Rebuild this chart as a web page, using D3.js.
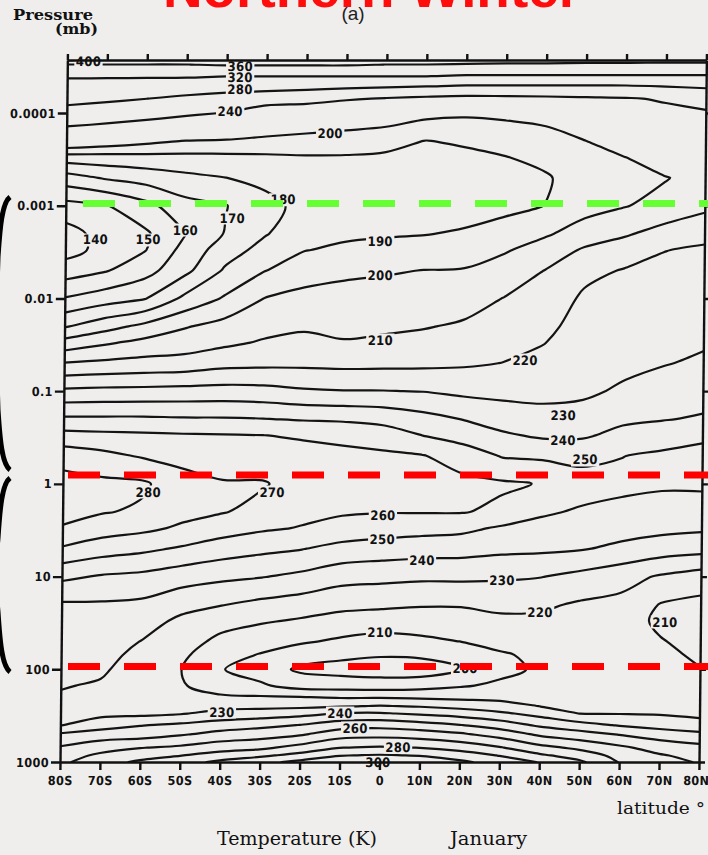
<!DOCTYPE html>
<html>
<head>
<meta charset="utf-8">
<script src="https://cdn.jsdelivr.net/npm/d3@7/dist/d3.min.js"></script>
<style>
  html, body { margin: 0; padding: 0; background: #efeeed; }
  svg { display: block; }
  .axis path, .axis line { stroke: #111; stroke-width: 2.4; }
  .axis text { font-family: "DejaVu Sans Condensed", "DejaVu Sans", sans-serif; font-weight: bold;
               font-size: 12.5px; fill: #111; letter-spacing: 0.4px; }
  .iso { fill: none; stroke: #141414; stroke-width: 2.2; stroke-linejoin: round; stroke-linecap: round; }
  .clabel { font-family: "DejaVu Sans Condensed", "DejaVu Sans", sans-serif; font-weight: bold;
            font-size: 13px; fill: #111; letter-spacing: 0.3px; }
</style>
</head>
<body>
<svg id="chart" width="708" height="855"></svg>
<script>
// ---- grid: latitude columns and pressure rows (mb, top of atmosphere first) ----
const latitudes = [-80, -70, -60, -50, -40, -30, -20, -10, 0, 10, 20, 30, 40, 50, 60, 70, 80];
const latitudeLabels = ["80S","70S","60S","50S","40S","30S","20S","10S","0","10N","20N","30N","40N","50N","60N","70N","80N"];
const pressureLevels = [0.00002, 0.00003, 0.00004, 0.00005, 0.00007, 0.0001, 0.0002, 0.0003, 0.0005, 0.001,
                        0.002, 0.003, 0.005, 0.01, 0.02, 0.03, 0.05, 0.1, 0.2, 0.3,
                        0.5, 1, 2, 3, 5, 10, 20, 30, 50, 70,
                        100, 150, 200, 250, 300, 400, 500, 700, 850, 1000];
const pressureTicks = [0.0001, 0.001, 0.01, 0.1, 1, 10, 100, 1000];
const pressureTickLabels = ["0.0001", "0.001", "0.01", "0.1", "1", "10", "100", "1000"];

// ---- zonal-mean temperature profiles (K), one per latitude, same order as pressureLevels ----
const t80S = [520,359.5,323.7,309.4,291.2,266.8,211.2,185.4,165.6,146.6,135.8,135.9,145,160.6,179.1,193.6,210.5,231.9,251.8,263.4,275.8,284.0,282.8,279.3,268.9,252.1,238.8,236.9,234.4,233.1,232.0,230.6,229.0,226.8,226.9,229.6,241.1,251,255,258];
const t70S = [470,359.7,323.7,307.7,286.6,259.8,206.9,186.1,171.1,149.4,144.1,143.5,149.2,165.3,186.1,198.6,212,232.7,251.7,262.4,272.7,282.3,280.7,274.6,264.7,249,238.9,237.0,234.6,233.0,231.4,229.0,227,226,227.5,235,244.8,255.7,262,265];
const t60S = [440,359.7,323.7,305.3,280.2,252.2,202.8,186.9,174.3,157,148.5,149.6,156.2,169.4,192.6,202.7,213.3,232.9,251.7,261.7,269.0,281.5,278.5,272.3,262.2,247.6,238.0,234.3,229.8,227.5,225.5,224,223.5,224.5,227.5,239.5,245.3,259.6,265.3,272];
const t50S = [440,359.7,323.7,301.9,272.6,244.6,199.6,187.3,177.6,166.7,159.6,163.4,167.3,182.3,199.2,205,214,233.5,251,261,266.6,274.1,273.0,268.5,258.8,244.4,233.3,228,224.5,222,220.2,221,223,226,229.2,241.8,248.7,261.8,269.6,276];
const t40S = [440,363.3,320.7,296.8,266.9,239.1,198.2,187.8,179.9,169.6,170.6,175.3,181.3,191.1,203.5,208.1,216.8,233.9,250.9,260.6,265.2,270.8,270.6,264.6,255,242.1,230.5,223.7,217.5,213.5,210.6,215,221.5,227.1,233,244.8,253,265.8,274,282];
const t30S = [440,363.3,320.7,295.1,261.4,215.4,197.1,188.4,182.7,177,179.3,183.5,189.7,200.2,206.8,211,217.6,233.2,250.3,260.1,264.3,270.8,267,261.5,252.4,240.5,227.4,221.1,213.9,209.4,205.2,211.5,221,227.4,234.6,247.3,255.3,267.8,278,287];
const t20S = [440,363.3,320.7,293.2,256.3,211.3,195.9,189.2,185.8,183,186.4,189.7,195.6,202.9,208.7,212.6,217.8,231.2,249.1,259.2,262.5,266.2,262.8,259.4,250.4,237.7,225.3,218.9,211.3,204.3,198.3,205.8,220.3,227.8,236.7,250.3,258.5,273.5,283.3,292.5];
const t10S = [440,363.3,320.7,291,244,208.3,195,189.2,185.2,183.2,188.3,191.7,198.1,203.4,207.8,210.6,217.3,230.4,248.5,257.6,262.4,265.9,261.2,256.3,247,233.7,222.7,216.5,208.4,202.2,196.5,205.3,219.1,229.3,240.5,255.4,265.3,279.8,289.5,299];
const t0   = [440,359.7,320.7,288.4,237.5,207,192.8,188.7,186.1,184.7,189.1,192.8,199.1,204,208.4,211.7,217.5,230.3,246.9,255.1,261.8,265.8,260.5,254.6,245.5,232.7,221.9,215.2,206.4,200.8,195.2,204.8,219,230.6,241,256.6,266.3,281,290.9,300.3];
const t10N = [440,359.7,320.7,285.2,232.5,203,189.8,187.5,184.6,185.4,189.6,193.9,200.2,204.7,209.4,213,217.8,229.7,243.4,249.9,260.5,264.9,260.6,253.5,244.4,231.9,220.8,215.3,207.9,201.7,194.5,206.2,218.2,229.3,238.4,254.1,264.8,279.8,289.5,298.5];
const t20N = [440,356.3,316.8,281.2,229.4,201.6,191.3,188,184.8,185.8,191.1,195.4,200.6,205.9,211.3,214.6,218.7,227.7,239.7,245.6,255.9,262.4,260.6,252.4,243.9,232,220.8,216,210.1,203.7,199,209,217.4,226.8,235.9,250.4,261.4,276.4,285.1,292];
const t30N = [440,353.5,316.8,281.2,230.5,202.2,194,189.7,187.3,187.9,193.3,199.1,204.1,210.3,214.5,217,220.2,227.1,235.7,241.4,249.3,261.4,257.9,248.7,242.4,231.3,222.5,217.9,212.7,209,207.2,211.8,217.3,223.8,231.9,245.4,255.9,270.9,279.6,286];
const t40N = [440,353.5,316.8,281.2,232.1,203.5,196.1,192.8,188.9,190.1,198.8,203.9,210.1,213.9,217.6,219.7,222.8,227.2,233.4,238.5,248.3,259.5,251.3,247.1,241.8,230.3,221.6,218,214.3,211.9,211.5,215.9,218.1,219.9,226.7,238.3,248.1,263.1,271.8,279.5];
const t50N = [440,351.1,316.8,281.2,235,222.5,199.8,197.6,195,196.7,204,211.3,217.4,221.5,223.6,224.8,226.4,228.6,233.1,238.6,247.4,254,248.9,245.2,240.7,227.2,218.8,216.4,213.3,212.1,214.4,216.5,217.9,219,219.8,233.7,243.7,257.8,265.6,272];
const t60N = [440,351.1,316.8,281.2,237.5,228,210.3,199.9,199,199.5,208.8,214.9,220.6,222.8,225.1,226.4,228.1,231.1,238.1,242.9,249.8,252.5,247.2,243.8,237.9,223.7,217.3,214.9,212,213.6,215.1,216.8,218,218.9,219.6,229.2,239.2,252,257,259.5];
const t70N = [440,349.1,317.1,284.7,243.4,232.2,216.3,207,199.4,203.5,213.6,219.8,221.8,224.1,226.4,227.8,229.5,234.2,239.5,244.9,251.9,251.3,246.2,242.6,235,218.9,209.5,208,210.6,212.2,213.9,215.9,217.3,218.4,219.2,225.9,235.3,246,251,255];
const t80N = [440,349.1,317.3,287.7,254.4,235.9,222.7,212,204.2,207.4,217.8,221.1,222.8,225.2,227.6,229,231.4,235.9,241,248.1,253,251.7,245.5,241.6,233.6,215.5,207.4,205.5,206.9,208.5,210.3,213.2,215.3,217,218.3,222.6,232.3,243,247,249];
const profiles = [t80S, t70S, t60S, t50S, t40S, t30S, t20S, t10S, t0, t10N, t20N, t30N, t40N, t50N, t60N, t70N, t80N];

// isotherms: every 10 K up to 300 K, plus the 40 K thermospheric set
const contourLevels = d3.range(140, 301, 10).concat([320, 360, 400]);
// above this pressure the thermosphere is contoured only every 40 K
const fineIntervalTop = 0.0005;

// labelled isotherms: [value, latitude, pressure mb]
const contourLabels = [
  [400, -74.7, 2.8e-5], [360, -36.7, 3.1e-5], [320, -36.7, 4.16e-5], [280, -36.7, 5.6e-5],
  [240, -39.1, 9.7e-5], [200, -14.0, 1.64e-4], [180, -25.6, 8.6e-4], [170, -38.3, 1.35e-3],
  [160, -50.0, 1.82e-3], [150, -59.3, 2.33e-3], [140, -72.5, 2.33e-3], [190, -1.2, 2.45e-3],
  [200, -1.1, 5.6e-3], [210, -0.9, 0.028], [220, 35.4, 0.046], [230, 45.1, 0.18],
  [240, 45.1, 0.335], [250, 50.7, 0.55], [280, -58.6, 1.22], [270, -27.6, 1.22],
  [260, 0.2, 2.16], [250, 0.1, 4.0], [240, 10.1, 6.6], [230, 30.2, 10.9],
  [220, 39.8, 24], [210, -0.2, 40], [210, 71.1, 30.8], [200, 21.2, 96.6],
  [230, -39.6, 288], [240, -10.0, 295], [260, -6.2, 428], [280, 4.6, 686], [300, -0.4, 1020]
];

// ---- layout ----
const W = 708, H = 855;
const plotL = 60, plotR = 699, plotT = 60, plotB = 762;
const skew = 0.0105;   // the printed frame leans slightly to the right towards the top
const paper = "#efeeed";

const svg = d3.select("#chart");
const x = d3.scaleLinear().domain([-80, 80]).range([plotL, plotR]);
const y = d3.scaleLog().domain([1000, 2.68e-5]).range([plotB, plotT]);

const defs = svg.append("defs");
defs.append("clipPath").attr("id", "plotClip")
  .append("rect").attr("x", plotL).attr("y", plotT).attr("width", plotR - plotL).attr("height", plotB - plotT);
defs.append("clipPath").attr("id", "lowerClip")
  .append("rect").attr("x", plotL).attr("y", y(fineIntervalTop))
  .attr("width", plotR - plotL).attr("height", plotB - y(fineIntervalTop));

const plot = svg.append("g")
  .attr("transform", `matrix(1,0,${-skew},1,${skew * plotB},0)`);

// ---- contour extraction ----
const nx = latitudes.length, ny = pressureLevels.length;
const grid = new Array(nx * ny);
for (let j = 0; j < ny; j++) for (let i = 0; i < nx; i++) grid[j * nx + i] = profiles[i][j];
const logP = pressureLevels.map(Math.log10);

function toPx(pt) {
  const fi = Math.max(0, Math.min(nx - 1, pt[0] - 0.5));
  const fj = Math.max(0, Math.min(ny - 1, pt[1] - 0.5));
  const i0 = Math.min(nx - 2, Math.floor(fi)), j0 = Math.min(ny - 2, Math.floor(fj));
  const lat = latitudes[i0] + (fi - i0) * (latitudes[i0 + 1] - latitudes[i0]);
  const lp = logP[j0] + (fj - j0) * (logP[j0 + 1] - logP[j0]);
  return [x(lat), y(Math.pow(10, lp))];
}
const onFrame = p => p[0] <= 0 || p[0] >= nx || p[1] <= 0 || p[1] >= ny;

// split each ring into the open isolines between grid-edge points
function ringToLines(ring) {
  const pts = ring.slice();
  const a = pts[0], b = pts[pts.length - 1];
  if (a[0] === b[0] && a[1] === b[1]) pts.pop();
  const n = pts.length;
  const start = pts.findIndex(onFrame);
  if (start < 0) return [{ closed: true, pts: pts.map(toPx) }];
  const out = [];
  let cur = [];
  for (let k = 1; k <= n; k++) {
    const p = pts[(start + k) % n];
    if (onFrame(p)) { if (cur.length > 1) out.push({ closed: false, pts: cur.map(toPx) }); cur = []; }
    else cur.push(p);
  }
  if (cur.length > 1) out.push({ closed: false, pts: cur.map(toPx) });
  return out;
}

const openLine = d3.line().curve(d3.curveCatmullRom.alpha(0.5));
const closedLine = d3.line().curve(d3.curveCatmullRomClosed.alpha(0.5));
const contours = d3.contours().size([nx, ny]).thresholds(contourLevels)(grid);

const gAll = plot.append("g").attr("clip-path", "url(#plotClip)");
const gFine = gAll.append("g").attr("clip-path", "url(#lowerClip)");

contours.forEach(c => {
  const everywhere = c.value <= 200 || c.value % 40 === 0;
  const target = everywhere ? gAll : gFine;
  c.coordinates.forEach(poly => poly.forEach(ring => {
    ringToLines(ring).forEach(l => {
      target.append("path").attr("class", "iso")
        .attr("d", l.closed ? closedLine(l.pts) : openLine(l.pts));
    });
  }));
});

// ---- contour labels ----
const gLab = plot.append("g");
contourLabels.forEach(([v, lat, p]) => {
  const g = gLab.append("g").attr("transform", `translate(${x(lat)},${y(p)})`);
  const t = g.append("text").attr("class", "clabel").attr("text-anchor", "middle")
    .attr("dy", "0.36em").text(v);
  const bb = t.node().getBBox();
  g.insert("rect", "text").attr("x", bb.x - 1.5).attr("y", bb.y + 1)
    .attr("width", bb.width + 3).attr("height", bb.height - 2).attr("fill", paper);
});

// ---- axes and frame ----
const bottomAxis = plot.append("g").attr("class", "axis").attr("transform", `translate(0,${plotB})`)
  .call(d3.axisBottom(x).tickValues(latitudes).tickFormat((d, i) => latitudeLabels[i])
    .tickSize(8).tickPadding(6).tickSizeOuter(0));
bottomAxis.selectAll(".tick text").filter(d => d === 80).attr("dx", "-3");
plot.append("g").attr("class", "axis").attr("transform", `translate(0,${plotT})`)
  .call(d3.axisTop(x).tickValues(latitudes).tickFormat("").tickSize(6).tickSizeOuter(0));
plot.append("g").attr("class", "axis").attr("transform", `translate(${plotL},0)`)
  .call(d3.axisLeft(y).tickValues(pressureTicks).tickFormat((d, i) => pressureTickLabels[i])
    .tickSize(9).tickPadding(2).tickSizeOuter(0));
plot.append("g").attr("class", "axis").attr("transform", `translate(${plotR},0)`)
  .call(d3.axisRight(y).tickValues(pressureTicks).tickFormat("").tickSize(6).tickSizeOuter(0));

// ---- titles ----
svg.append("text").attr("x", 13).attr("y", 20).attr("font-family", "DejaVu Serif")
  .attr("font-weight", "bold").attr("font-size", 15).attr("fill", "#111")
  .attr("textLength", 80).attr("lengthAdjust", "spacingAndGlyphs").text("Pressure");
svg.append("text").attr("x", 55).attr("y", 34).attr("font-family", "DejaVu Serif")
  .attr("font-weight", "bold").attr("font-size", 15).attr("fill", "#111")
  .attr("textLength", 43).attr("lengthAdjust", "spacingAndGlyphs").text("(mb)");
svg.append("text").attr("x", 353).attr("y", 20).attr("text-anchor", "middle")
  .attr("font-family", "Liberation Sans").attr("font-size", 19).attr("fill", "#222").text("(a)");
svg.append("text").attr("x", 617).attr("y", 814).attr("font-family", "DejaVu Serif")
  .attr("font-size", 16).attr("fill", "#111")
  .attr("textLength", 88).attr("lengthAdjust", "spacingAndGlyphs").text("latitude °");
svg.append("text").attr("x", 217).attr("y", 845).attr("font-family", "DejaVu Serif")
  .attr("font-size", 19).attr("fill", "#111")
  .attr("textLength", 160).attr("lengthAdjust", "spacingAndGlyphs").text("Temperature (K)");
svg.append("text").attr("x", 450).attr("y", 845).attr("font-family", "DejaVu Serif")
  .attr("font-size", 19).attr("fill", "#111")
  .attr("textLength", 77).attr("lengthAdjust", "spacingAndGlyphs").text("January");
svg.append("text").attr("x", 163).attr("y", 7).attr("font-family", "Liberation Sans")
  .attr("font-weight", "bold").attr("font-size", 54).attr("fill", "#ff0d0d")
  .attr("textLength", 417).attr("lengthAdjust", "spacingAndGlyphs").text("Northern Winter");

// ---- layer markers: dashed level lines and side braces ----
svg.append("line").attr("x1", 83).attr("x2", W).attr("y1", 203.5).attr("y2", 203.5)
  .attr("stroke", "#66ff33").attr("stroke-width", 7).attr("stroke-dasharray", "32,24");
[475, 666.5].forEach(yy => svg.append("line").attr("x1", 68).attr("x2", W).attr("y1", yy).attr("y2", yy)
  .attr("stroke", "#ff0000").attr("stroke-width", 7).attr("stroke-dasharray", "32,24"));

// braces sit mostly off the left edge; only their curled ends show
function bracePath(y0, y1) {
  const ym = (y0 + y1) / 2;
  return `M10,${y0} C2,${y0 + 6} 0,${y0 + 30} -2,${y0 + 60} L-4,${ym - 15} C-4,${ym - 5} -8,${ym} -14,${ym}` +
         ` C-8,${ym} -4,${ym + 5} -4,${ym + 15} L-2,${y1 - 60} C0,${y1 - 30} 2,${y1 - 6} 10,${y1}`;
}
[[197, 470], [478, 672]].forEach(([a, b]) => svg.append("path").attr("d", bracePath(a, b))
  .attr("fill", "none").attr("stroke", "#000").attr("stroke-width", 5));
</script>
</body>
</html>
